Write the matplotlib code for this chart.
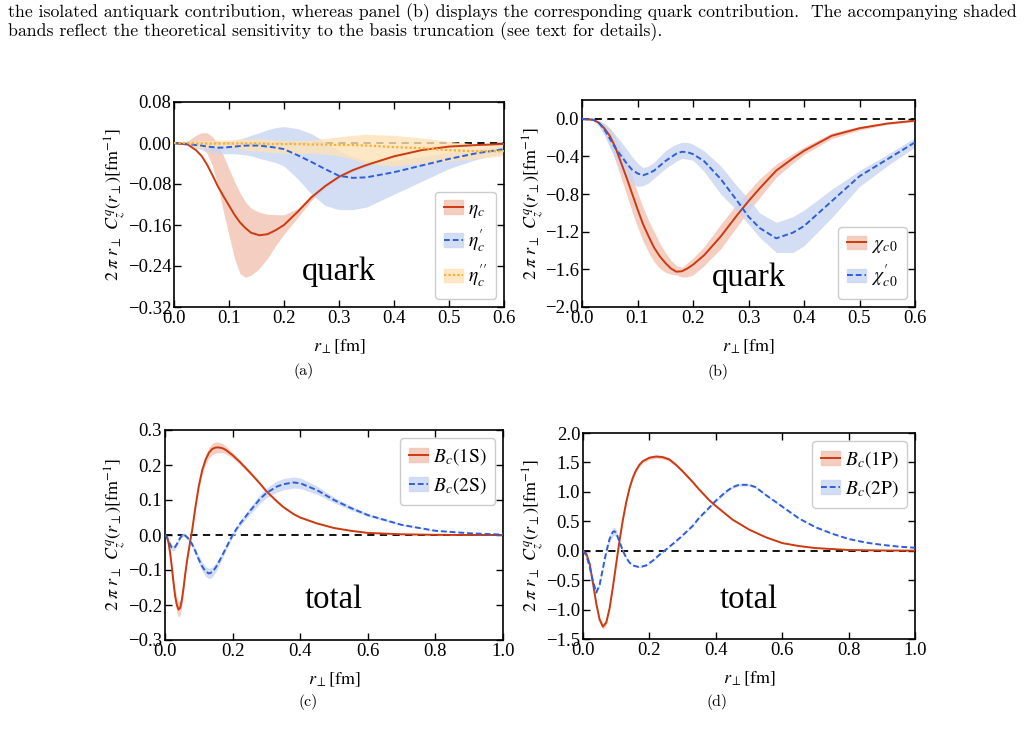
import matplotlib
matplotlib.use("Agg")
import matplotlib.pyplot as plt
from matplotlib.patches import Patch

plt.rcParams['font.family'] = ['Liberation Serif', 'DejaVu Serif']
plt.rcParams['mathtext.fontset'] = 'stix'

# colours
red, red_band = '#cc3a12', '#f2c2b2'
blue, blue_band = '#2f5fd8', '#c9d5f2'
orange, orange_band = '#f7b032', '#fde2b6'

# ---- panel (a): eta_c family, quark ----
xa = [0, 0.025, 0.04, 0.05, 0.06, 0.07, 0.08, 0.09, 0.1, 0.11, 0.12, 0.13, 0.14, 0.155, 0.17, 0.185, 0.2,
      0.225, 0.25, 0.275, 0.3, 0.325, 0.35, 0.4, 0.45, 0.5, 0.55, 0.6]
eta1 = [0, -0.003, -0.014, -0.025, -0.042, -0.063, -0.085, -0.104, -0.122, -0.14, -0.155, -0.166, -0.175,
        -0.18, -0.178, -0.17, -0.16, -0.134, -0.106, -0.084, -0.066, -0.053, -0.043, -0.026, -0.014, -0.007,
        -0.004, -0.002]
eta1_lo = [0, -0.002, -0.004, -0.008, -0.02, -0.045, -0.085, -0.135, -0.18, -0.225, -0.255, -0.262, -0.258,
           -0.245, -0.225, -0.2, -0.178, -0.145, -0.112, -0.088, -0.07, -0.056, -0.046, -0.028, -0.015, -0.008,
           -0.005, -0.003]
eta1_hi = [0, 0.004, 0.015, 0.02, 0.02, 0.012, -0.003, -0.025, -0.05, -0.075, -0.097, -0.115, -0.127, -0.135,
           -0.139, -0.14, -0.14, -0.128, -0.1, -0.08, -0.062, -0.05, -0.04, -0.024, -0.012, -0.006, -0.003,
           -0.001]
eta2 = [0, -0.002, -0.004, -0.005, -0.007, -0.008, -0.009, -0.009, -0.008, -0.007, -0.006, -0.005, -0.005,
        -0.005, -0.007, -0.009, -0.012, -0.024, -0.037, -0.051, -0.064, -0.068, -0.067, -0.057, -0.044, -0.031,
        -0.02, -0.012]
eta2_lo = [0, -0.004, -0.01, -0.013, -0.016, -0.018, -0.02, -0.021, -0.021, -0.021, -0.022, -0.023, -0.025,
           -0.03, -0.034, -0.038, -0.045, -0.07, -0.1, -0.122, -0.13, -0.13, -0.125, -0.1, -0.075, -0.05, -0.032,
           -0.02]
eta2_hi = [0, 0.001, 0.002, 0.002, 0.002, 0.002, 0.002, 0.002, 0.003, 0.005, 0.008, 0.011, 0.015, 0.02, 0.026,
           0.03, 0.032, 0.028, 0.018, 0.002, -0.015, -0.027, -0.034, -0.034, -0.027, -0.018, -0.012, -0.006]
eta3 = [0, 0, -0.001, -0.001, -0.001, -0.001, -0.001, -0.001, -0.001, -0.001, -0.001, -0.001, -0.001, -0.001,
        -0.002, -0.002, -0.002, -0.002, -0.003, -0.003, -0.004, -0.004, -0.005, -0.008, -0.01, -0.014, -0.016,
        -0.016]
eta3_lo = [0, -0.004, -0.008, -0.01, -0.01, -0.009, -0.008, -0.007, -0.006, -0.008, -0.012, -0.014, -0.015,
           -0.016, -0.018, -0.019, -0.02, -0.02, -0.02, -0.022, -0.025, -0.032, -0.04, -0.045, -0.04, -0.035,
           -0.03, -0.025]
eta3_hi = [0, 0.003, 0.004, 0.005, 0.005, 0.005, 0.006, 0.006, 0.006, 0.007, 0.008, 0.008, 0.008, 0.008, 0.007,
           0.006, 0.005, 0.005, 0.006, 0.009, 0.012, 0.015, 0.017, 0.015, 0.01, 0.003, -0.002, -0.005]

# ---- panel (b): chi_c0 family, quark ----
xb = [0, 0.02, 0.03, 0.04, 0.05, 0.06, 0.07, 0.08, 0.09, 0.1, 0.11, 0.12, 0.13, 0.14, 0.15, 0.16, 0.17, 0.18,
      0.19, 0.2, 0.22, 0.25, 0.28, 0.3, 0.32, 0.35, 0.38, 0.4, 0.45, 0.5, 0.55, 0.6]
chi1 = [0, -0.01, -0.04, -0.1, -0.18, -0.3, -0.46, -0.62, -0.79, -0.96, -1.12, -1.25, -1.37, -1.46, -1.53,
        -1.59, -1.625, -1.62, -1.59, -1.55, -1.45, -1.25, -1.02, -0.875, -0.74, -0.55, -0.42, -0.34, -0.18,
        -0.1, -0.05, -0.02]
chi1_lo = [0, -0.015, -0.07, -0.16, -0.28, -0.44, -0.62, -0.8, -0.98, -1.15, -1.3, -1.42, -1.52, -1.59, -1.63,
           -1.65, -1.66, -1.68, -1.68, -1.66, -1.56, -1.38, -1.14, -0.98, -0.84, -0.62, -0.47, -0.38, -0.21,
           -0.12, -0.06, -0.03]
chi1_hi = [0, -0.005, -0.02, -0.05, -0.1, -0.19, -0.32, -0.45, -0.6, -0.78, -0.94, -1.08, -1.2, -1.32, -1.42,
           -1.5, -1.56, -1.58, -1.53, -1.48, -1.36, -1.12, -0.9, -0.77, -0.64, -0.48, -0.37, -0.3, -0.15, -0.08,
           -0.04, -0.01]
chi2 = [0, -0.01, -0.04, -0.11, -0.21, -0.31, -0.39, -0.47, -0.54, -0.58, -0.6, -0.58, -0.55, -0.5, -0.45,
        -0.41, -0.37, -0.35, -0.355, -0.375, -0.45, -0.64, -0.875, -1.04, -1.16, -1.27, -1.21, -1.14, -0.875,
        -0.61, -0.43, -0.25]
chi2_lo = [0, -0.015, -0.07, -0.17, -0.3, -0.42, -0.55, -0.63, -0.68, -0.72, -0.71, -0.68, -0.63, -0.58, -0.53,
           -0.49, -0.45, -0.42, -0.43, -0.44, -0.56, -0.8, -0.98, -1.12, -1.26, -1.42, -1.42, -1.35, -1.05,
           -0.72, -0.5, -0.3]
chi2_hi = [0, -0.005, -0.02, -0.05, -0.1, -0.17, -0.24, -0.32, -0.4, -0.47, -0.52, -0.5, -0.46, -0.4, -0.34,
           -0.3, -0.27, -0.25, -0.25, -0.27, -0.34, -0.5, -0.72, -0.85, -1.0, -1.1, -1.04, -0.97, -0.75, -0.55,
           -0.38, -0.2]

# ---- panel (c): Bc S-waves, total ----
xc = [0, 0.005, 0.01, 0.015, 0.02, 0.025, 0.03, 0.035, 0.04, 0.045, 0.05, 0.055, 0.06, 0.065, 0.07, 0.075,
      0.08, 0.09, 0.1, 0.11, 0.12, 0.13, 0.14, 0.15, 0.16, 0.17, 0.18, 0.2, 0.22, 0.25, 0.28, 0.3, 0.33, 0.35,
      0.38, 0.4, 0.45, 0.5, 0.55, 0.6, 0.7, 0.8, 0.9, 1.0]
bc1s = [0, -0.004, -0.02, -0.05, -0.09, -0.135, -0.175, -0.2, -0.213, -0.208, -0.185, -0.15, -0.11, -0.075,
        -0.045, -0.015, 0.012, 0.08, 0.14, 0.185, 0.215, 0.235, 0.246, 0.25, 0.25, 0.248, 0.243, 0.228, 0.21,
        0.18, 0.148, 0.125, 0.097, 0.08, 0.06, 0.05, 0.033, 0.02, 0.012, 0.006, 0.002, 0.0005, 0.0, 0.0]
bc1s_err = [0, 0.002, 0.005, 0.01, 0.014, 0.017, 0.019, 0.021, 0.022, 0.021, 0.018, 0.014, 0.01, 0.007, 0.005,
            0.005, 0.006, 0.008, 0.01, 0.012, 0.014, 0.015, 0.016, 0.016, 0.015, 0.013, 0.011, 0.008, 0.006,
            0.005, 0.004, 0.004, 0.003, 0.003, 0.002, 0.002, 0.002, 0.001, 0.001, 0.001, 0.0, 0.0, 0.0, 0.0]
bc2s = [0, -0.005, -0.015, -0.027, -0.036, -0.038, -0.034, -0.026, -0.017, -0.008, -0.002, 0.002, -0.002,
        -0.006, -0.012, -0.019, -0.026, -0.047, -0.07, -0.09, -0.104, -0.11, -0.106, -0.093, -0.076, -0.057,
        -0.038, 0.0, 0.03, 0.067, 0.102, 0.12, 0.138, 0.145, 0.15, 0.148, 0.128, 0.1, 0.077, 0.057, 0.029,
        0.012, 0.005, 0.001]
bc2s_err = [0, 0.002, 0.004, 0.006, 0.008, 0.008, 0.008, 0.007, 0.006, 0.005, 0.005, 0.005, 0.005, 0.005,
            0.006, 0.006, 0.007, 0.009, 0.011, 0.013, 0.014, 0.015, 0.014, 0.013, 0.011, 0.009, 0.008, 0.006,
            0.007, 0.01, 0.013, 0.014, 0.016, 0.016, 0.016, 0.015, 0.012, 0.008, 0.006, 0.004, 0.002, 0.001,
            0.0, 0.0]

# ---- panel (d): Bc P-waves, total ----
xd1 = [0, 0.01, 0.02, 0.03, 0.04, 0.05, 0.06, 0.07, 0.08, 0.09, 0.1, 0.11, 0.12, 0.13, 0.14, 0.15, 0.16, 0.17,
       0.18, 0.2, 0.22, 0.24, 0.26, 0.28, 0.3, 0.33, 0.35, 0.38, 0.4, 0.45, 0.5, 0.55, 0.6, 0.65, 0.7, 0.8,
       0.9, 1.0]
bc1p = [0, -0.05, -0.22, -0.55, -0.9, -1.17, -1.29, -1.22, -0.98, -0.62, -0.22, 0.17, 0.52, 0.82, 1.06, 1.24,
        1.37, 1.46, 1.52, 1.58, 1.6, 1.59, 1.55, 1.46, 1.35, 1.17, 1.04, 0.86, 0.76, 0.53, 0.36, 0.23, 0.13,
        0.08, 0.045, 0.012, 0.004, 0.001]
bc1p_err = [0, 0.01, 0.02, 0.03, 0.04, 0.05, 0.05, 0.045, 0.035, 0.025, 0.02, 0.02, 0.025, 0.03, 0.03, 0.03,
            0.03, 0.03, 0.03, 0.03, 0.03, 0.03, 0.03, 0.028, 0.025, 0.022, 0.02, 0.017, 0.015, 0.01, 0.008,
            0.006, 0.004, 0.003, 0.002, 0.0, 0.0, 0.0]
xd2 = [0, 0.01, 0.02, 0.03, 0.04, 0.05, 0.06, 0.07, 0.08, 0.09, 0.095, 0.1, 0.11, 0.12, 0.13, 0.14, 0.15, 0.17,
       0.19, 0.21, 0.23, 0.25, 0.28, 0.3, 0.33, 0.35, 0.38, 0.4, 0.43, 0.45, 0.47, 0.5, 0.52, 0.55, 0.6, 0.65,
       0.7, 0.75, 0.8, 0.85, 0.9, 0.95, 1.0]
bc2p = [0, -0.08, -0.27, -0.52, -0.71, -0.58, -0.3, -0.02, 0.2, 0.32, 0.33, 0.3, 0.15, 0.0, -0.12, -0.2, -0.25,
        -0.28, -0.25, -0.17, -0.07, 0.02, 0.16, 0.26, 0.42, 0.56, 0.73, 0.85, 1.0, 1.08, 1.12, 1.12, 1.08,
        0.95, 0.75, 0.55, 0.4, 0.29, 0.2, 0.14, 0.1, 0.07, 0.05]
bc2p_err = [0, 0.01, 0.02, 0.03, 0.035, 0.03, 0.03, 0.04, 0.06, 0.07, 0.07, 0.06, 0.04, 0.02, 0.015, 0.01,
            0.01, 0.01, 0.01, 0.01, 0.01, 0.01, 0.01, 0.01, 0.012, 0.015, 0.018, 0.02, 0.02, 0.02, 0.02, 0.02,
            0.018, 0.015, 0.01, 0.008, 0.008, 0.006, 0.005, 0.003, 0.0, 0.0, 0.0]

W, H = 1027, 744
fig = plt.figure(figsize=(W / 100, H / 100), dpi=100)


def add_ax(l, t, r, b):
    return fig.add_axes([l / W, 1 - b / H, (r - l) / W, (b - t) / H])


def style(ax, xlim, ylim, xt, yt, yfmt, ylx):
    ax.set_xlim(xlim)
    ax.set_ylim(ylim)
    ax.set_xticks(xt)
    ax.set_yticks(yt)
    ax.set_xticklabels(['%.1f' % v for v in xt])
    ax.set_yticklabels([(yfmt % v).replace('-', '\u2212') for v in yt])
    ax.tick_params(direction='in', top=True, right=True, length=5, width=1, labelsize=13.5, pad=2)
    for s in ax.spines.values():
        s.set_linewidth(1.2)
    ax.axhline(0, color='k', ls=(0, (4, 3)), lw=1.3, zorder=1)
    ax.set_ylabel(r'$2\;\pi\;r_\perp\;\,C_z^q(r_\perp)[\mathrm{fm}^{-1}]$', fontsize=13)
    ax.yaxis.set_label_coords(ylx, 0.5)
    ax.set_xlabel(r'$r_\perp[\mathrm{fm}]$', fontsize=13, labelpad=8)


def band(ax, x, y, lo, hi, c, bc, ls, lw=1.4):
    ax.fill_between(x, lo, hi, color=bc, alpha=0.8, lw=0, zorder=2)
    l, = ax.plot(x, y, color=c, ls=ls, lw=lw, zorder=3)
    return (Patch(color=bc, alpha=0.8), l)


leg_kw = dict(fontsize=14, frameon=True, fancybox=True, edgecolor='#cccccc', framealpha=1,
              handlelength=1.0, handletextpad=0.25, borderpad=0.45, labelspacing=0.4, borderaxespad=0.4)
dash = (0, (3, 1.5))

# (a)
ax = add_ax(174, 102, 504, 307)
h1 = band(ax, xa, eta1, eta1_lo, eta1_hi, red, red_band, '-')
h2 = band(ax, xa, eta2, eta2_lo, eta2_hi, blue, blue_band, dash)
h3 = band(ax, xa, eta3, eta3_lo, eta3_hi, orange, orange_band, (0, (1, 1)), lw=1.6)
style(ax, (0, 0.6), (-0.32, 0.08), [0, 0.1, 0.2, 0.3, 0.4, 0.5, 0.6],
      [-0.32, -0.24, -0.16, -0.08, 0.0, 0.08], '%.2f', -0.139)
ax.legend([h1, h2, h3], [r'$\eta_c$', r"$\eta_c'$", r"$\eta_c''$"],
          loc='lower right', **leg_kw)
ax.text(0.5, 0.17, 'quark', transform=ax.transAxes, ha='center', va='center', fontsize=23.5)

# (b)
ax = add_ax(582, 100, 915, 307)
h1 = band(ax, xb, chi1, chi1_lo, chi1_hi, red, red_band, '-')
h2 = band(ax, xb, chi2, chi2_lo, chi2_hi, blue, blue_band, dash)
style(ax, (0, 0.6), (-2.0, 0.2), [0, 0.1, 0.2, 0.3, 0.4, 0.5, 0.6],
      [-2.0, -1.6, -1.2, -0.8, -0.4, 0.0], '%.1f', -0.109)
ax.legend([h1, h2], [r'$\chi_{c\,0}$', r"$\chi_{c\,0}'$"], loc='lower right', **leg_kw)
ax.text(0.5, 0.14, 'quark', transform=ax.transAxes, ha='center', va='center', fontsize=23.5)

# (c)
ax = add_ax(165, 430, 503, 640)
lo1 = [a - b for a, b in zip(bc1s, bc1s_err)]
hi1 = [a + b for a, b in zip(bc1s, bc1s_err)]
lo2 = [a - b for a, b in zip(bc2s, bc2s_err)]
hi2 = [a + b for a, b in zip(bc2s, bc2s_err)]
h1 = band(ax, xc, bc1s, lo1, hi1, red, red_band, '-')
h2 = band(ax, xc, bc2s, lo2, hi2, blue, blue_band, dash)
style(ax, (0, 1.0), (-0.3, 0.3), [0, 0.2, 0.4, 0.6, 0.8, 1.0],
      [-0.3, -0.2, -0.1, 0.0, 0.1, 0.2, 0.3], '%.1f', -0.109)
ax.legend([h1, h2], [r'$B_c(\mathrm{1S})$', r'$B_c(\mathrm{2S})$'], loc='upper right', **leg_kw)
ax.text(0.5, 0.19, 'total', transform=ax.transAxes, ha='center', va='center', fontsize=23.5)

# (d)
ax = add_ax(583, 433, 915, 639)
lo1 = [a - b for a, b in zip(bc1p, bc1p_err)]
hi1 = [a + b for a, b in zip(bc1p, bc1p_err)]
lo2 = [a - b for a, b in zip(bc2p, bc2p_err)]
hi2 = [a + b for a, b in zip(bc2p, bc2p_err)]
h1 = band(ax, xd1, bc1p, lo1, hi1, red, red_band, '-')
h2 = band(ax, xd2, bc2p, lo2, hi2, blue, blue_band, dash)
style(ax, (0, 1.0), (-1.5, 2.0), [0, 0.2, 0.4, 0.6, 0.8, 1.0],
      [-1.5, -1.0, -0.5, 0.0, 0.5, 1.0, 1.5, 2.0], '%.1f', -0.112)
ax.legend([h1, h2], [r'$B_c(\mathrm{1P})$', r'$B_c(\mathrm{2P})$'], loc='upper right', **leg_kw)
ax.text(0.5, 0.19, 'total', transform=ax.transAxes, ha='center', va='center', fontsize=23.5)

# sub-figure labels
for lab, px, py in [('(a)', 304, 371), ('(b)', 718, 372), ('(c)', 308, 702), ('(d)', 717, 702)]:
    fig.text(px / W, 1 - py / H, lab, ha='center', va='center', fontsize=11.5, family='cmr10')

# caption text at top
cap1 = ('the isolated antiquark contribution, whereas panel (b) displays the corresponding quark '
        'contribution.  The accompanying shaded')
cap2 = 'bands reflect the theoretical sensitivity to the basis truncation (see text for details).'
fig.text(8 / W, 1 - 13 / H, cap1, ha='left', va='center', fontsize=12.8, family='cmr10')
fig.text(8 / W, 1 - 32 / H, cap2, ha='left', va='center', fontsize=12.8, family='cmr10')

fig.savefig('out.png', dpi=100)
